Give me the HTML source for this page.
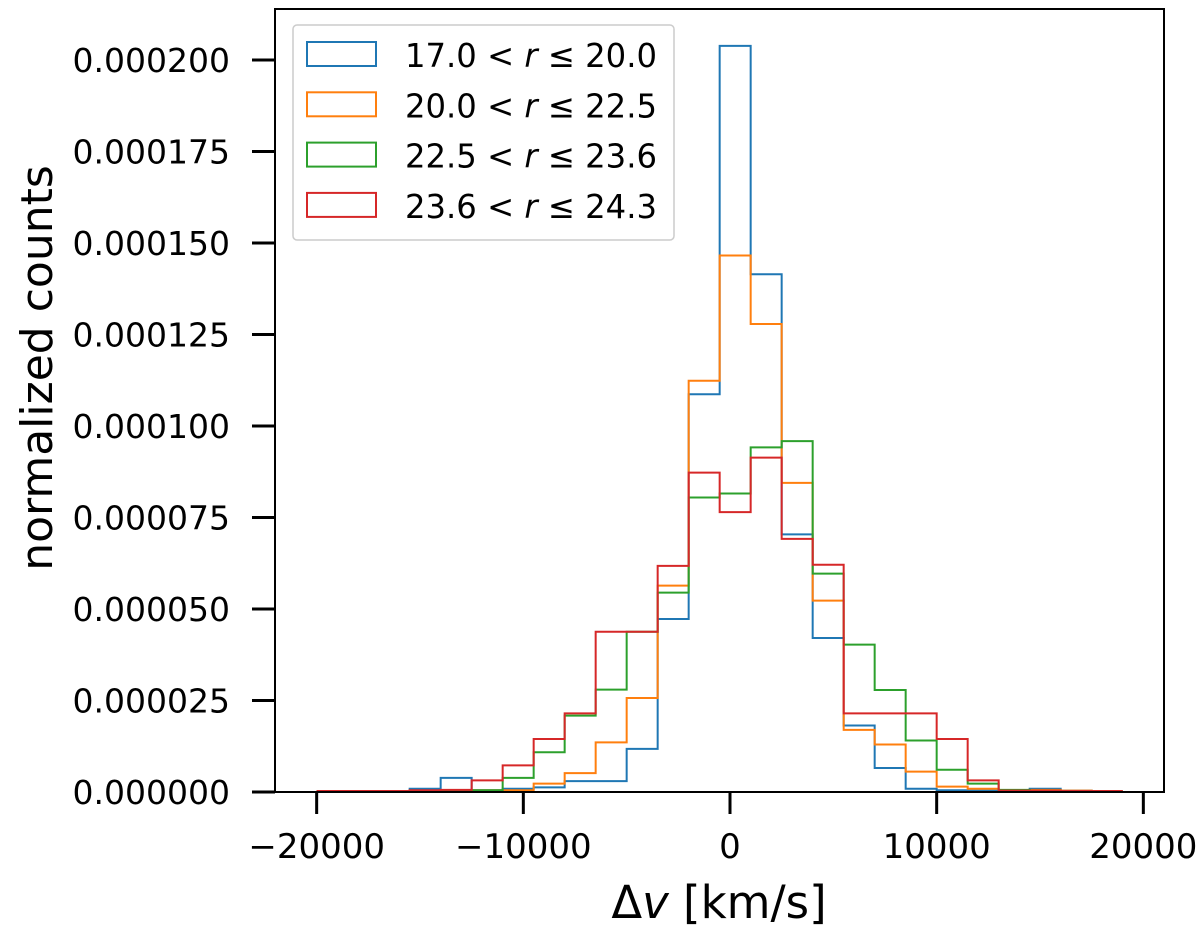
<!DOCTYPE html>
<html><head><meta charset="utf-8"><style>
html,body{margin:0;padding:0;background:#fff;}
svg{display:block;font-family:"DejaVu Sans","Liberation Sans",sans-serif;}
</style></head><body>
<svg id="chart" width="1200" height="930" viewBox="0 0 1200 930">
<rect x="0" y="0" width="1200" height="930" fill="#fff"/>
<g id="bars"></g>
<rect x="275" y="9" width="889" height="783" fill="none" stroke="#000" stroke-width="2"/>
<g id="yticks"></g>
<g id="xticks"></g>
<text x="52" y="368" font-size="44" text-anchor="middle" transform="rotate(-90 52 368)">normalized counts</text>
<text x="719" y="918" font-size="45" text-anchor="middle">Δ<tspan font-style="italic">v</tspan> [km/s]</text>
<g>
<rect x="293" y="25" width="381" height="215" rx="4" fill="#fff" fill-opacity="0.85" stroke="#ccc" stroke-width="1.5"/>
<g id="legend-entries"></g>
</g>
</svg>
<script>
const binStart = -20000;
const binWidth = 1500;
const labels = ["17.0 < r ≤ 20.0","20.0 < r ≤ 22.5","22.5 < r ≤ 23.6","23.6 < r ≤ 24.3"];
const colors = ["#1f77b4","#ff7f0e","#2ca02c","#d62728"];
// values in units of 1e-6, 26 bins
const blue   = [0,0,0,0.6,3.6,0.2,0.6,1.0,2.7,2.7,11.5,47.0,108.4,203.6,141.2,70.1,41.8,17.9,6.3,0.6,0.2,0.1,0.1,0.6,0.1,0];
const orange = [0,0,0,0.1,0.1,0.2,0.2,2.0,4.9,13.3,25.4,56.1,112.1,146.3,127.6,84.2,52.0,16.7,12.7,5.3,1.2,0.6,0.1,0.3,0.1,0];
const green  = [0,0,0,0.1,0.2,0.2,3.6,10.6,20.6,27.7,43.5,54.2,80.2,81.3,93.9,95.6,59.4,40.0,27.6,13.8,5.8,2.0,0.3,0.1,0,0];
const red    = [0,0,0,0.2,0.3,2.9,7.0,14.2,21.2,43.5,43.5,61.5,87.0,76.2,91.1,68.9,61.8,21.2,21.2,21.2,14.2,2.9,0.1,0.1,0,0];
const seriesList = [blue, orange, green, red];
const yTickVals = [0,25,50,75,100,125,150,175,200];
const yTickLabels = ["0.000000","0.000025","0.000050","0.000075","0.000100","0.000125","0.000150","0.000175","0.000200"];
const xTickVals = [-20000,-10000,0,10000,20000];
const xTickLabels = ["\u221220000","\u221210000","0","10000","20000"];

const NS = "http://www.w3.org/2000/svg";
function xs(v){ return 730 + v*0.020667; }
function ys(c){ return 791 - c*3.66; }

const bars = document.getElementById('bars');
seriesList.forEach((vals, si) => {
  let d = "M" + xs(binStart) + "," + ys(0);
  vals.forEach((v, i) => {
    const x0 = xs(binStart + i*binWidth), x1 = xs(binStart + (i+1)*binWidth);
    d += " L" + x0 + "," + ys(v) + " L" + x1 + "," + ys(v);
  });
  d += " L" + xs(binStart + vals.length*binWidth) + "," + ys(0);
  const p = document.createElementNS(NS, 'path');
  p.setAttribute('d', d);
  p.setAttribute('fill', 'none');
  p.setAttribute('stroke', colors[si]);
  p.setAttribute('stroke-width', '2');
  
  
  bars.appendChild(p);
});

const yg = document.getElementById('yticks');
yTickVals.forEach((v, i) => {
  const y = ys(v) + 1;
  const l = document.createElementNS(NS, 'line');
  l.setAttribute('x1', 252); l.setAttribute('x2', 275);
  l.setAttribute('y1', y); l.setAttribute('y2', y);
  l.setAttribute('stroke', '#000'); l.setAttribute('stroke-width', '3');
  
  
  yg.appendChild(l);
  const t = document.createElementNS(NS, 'text');
  t.setAttribute('x', 230); t.setAttribute('y', y + 12);
  t.setAttribute('text-anchor', 'end'); t.setAttribute('font-size', '33');
  t.textContent = yTickLabels[i];
  
  
  yg.appendChild(t);
});

const xg = document.getElementById('xticks');
xTickVals.forEach((v, i) => {
  const x = xs(v);
  const l = document.createElementNS(NS, 'line');
  l.setAttribute('x1', x); l.setAttribute('x2', x);
  l.setAttribute('y1', 792); l.setAttribute('y2', 814);
  l.setAttribute('stroke', '#000'); l.setAttribute('stroke-width', '3');
  
  
  xg.appendChild(l);
  const t = document.createElementNS(NS, 'text');
  t.setAttribute('x', x); t.setAttribute('y', 858);
  t.setAttribute('text-anchor', 'middle'); t.setAttribute('font-size', '34');
  t.textContent = xTickLabels[i];
  
  
  xg.appendChild(t);
});

const lg = document.getElementById('legend-entries');
labels.forEach((lab, i) => {
  const y = 42 + i*50.3;
  const r = document.createElementNS(NS, 'rect');
  r.setAttribute('x', 307); r.setAttribute('y', y);
  r.setAttribute('width', 69); r.setAttribute('height', 24);
  r.setAttribute('fill', 'none'); r.setAttribute('stroke', colors[i]); r.setAttribute('stroke-width', '2');
  
  
  lg.appendChild(r);
  const parts = lab.split(' r ');
  const t = document.createElementNS(NS, 'text');
  t.setAttribute('x', 405); t.setAttribute('y', y + 25);
  t.setAttribute('font-size', '33');
  t.setAttribute('textLength', '252'); t.setAttribute('lengthAdjust', 'spacingAndGlyphs');
  
  
  const a = document.createElementNS(NS, 'tspan'); a.textContent = parts[0] + ' ';
  const b = document.createElementNS(NS, 'tspan'); b.setAttribute('font-style', 'italic'); b.textContent = 'r';
  const c = document.createElementNS(NS, 'tspan'); c.textContent = ' ' + parts[1];
  t.appendChild(a); t.appendChild(b); t.appendChild(c);
  lg.appendChild(t);
});
</script>
</body></html>
